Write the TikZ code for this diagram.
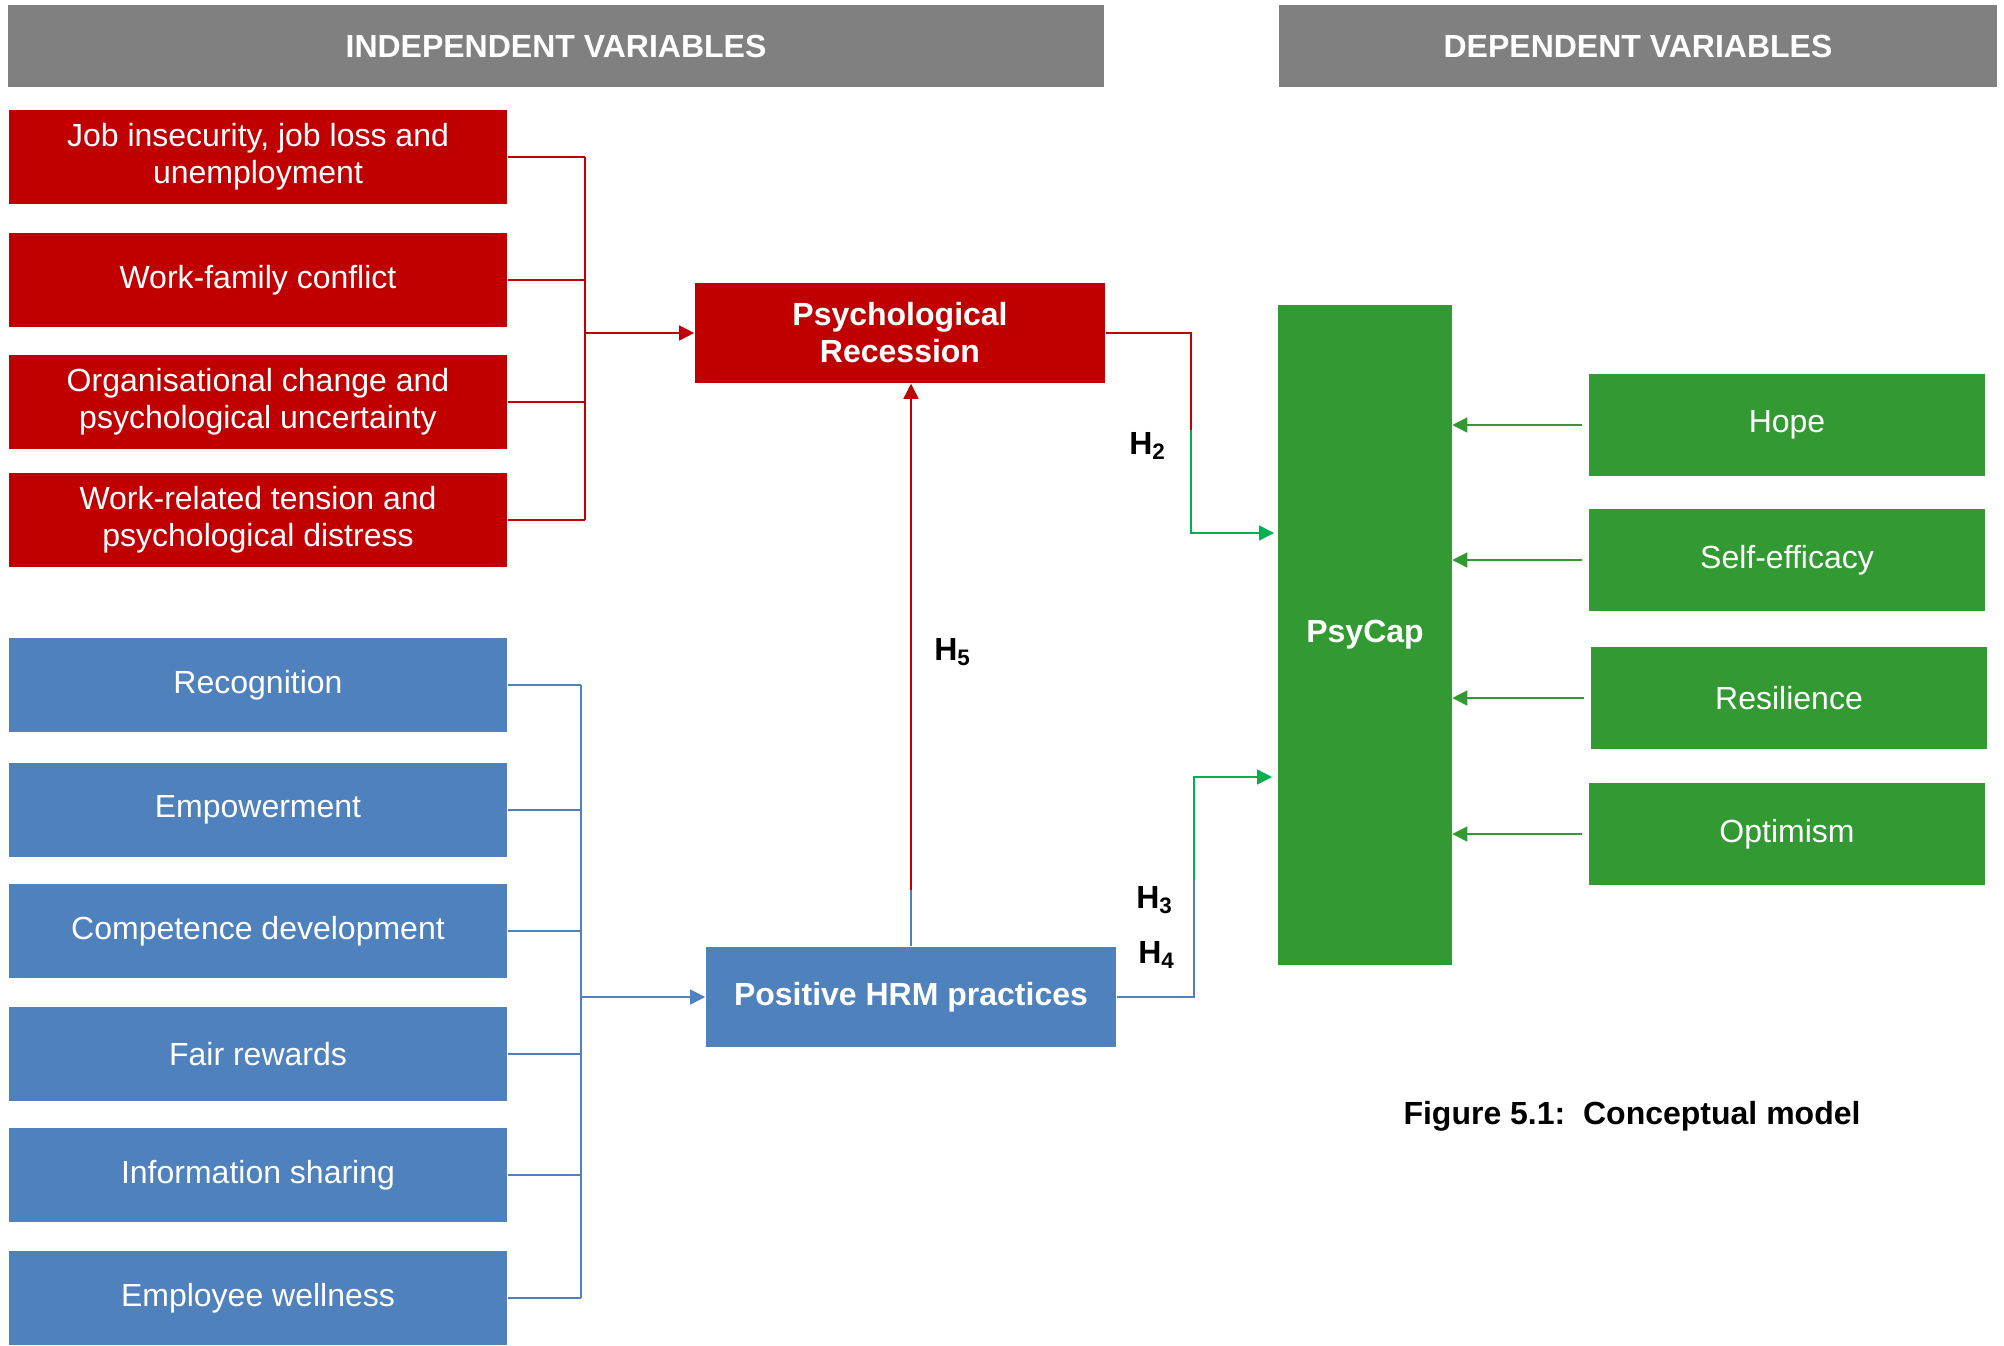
\documentclass[tikz,border=0pt]{standalone}
\usepackage{fontspec}
\setmainfont{Liberation Sans}
\usetikzlibrary{arrows.meta}
\definecolor{varred}{HTML}{C00000}
\definecolor{varblue}{HTML}{4F81BD}
\definecolor{vargreen}{HTML}{339933}
\definecolor{linkgreen}{HTML}{00B050}
\definecolor{headgray}{HTML}{808080}
\providecommand{\boxfontsize}{\fontsize{9.1}{10.5}\selectfont}

\begin{document}
\begin{tikzpicture}[x=0.01cm,y=-0.01cm,
    headbox/.style={fill=headgray,text=white,inner sep=0,font=\boxfontsize\bfseries},
    varbox/.style={fill=#1,text=white,inner sep=0,align=center,font=\boxfontsize,minimum width=4.98cm,minimum height=0.94cm},
    midbox/.style={fill=#1,text=white,inner sep=0,align=center,font=\boxfontsize\bfseries,minimum width=4.1cm,minimum height=1.0cm},
    psybox/.style={fill=vargreen,text=white,inner sep=0,align=center,font=\boxfontsize,minimum width=3.95cm,minimum height=1.01cm},
    hyp/.style={font=\boxfontsize\bfseries,inner sep=0},
    link/.style={draw=#1,line width=0.4pt},
    tip/.style={-{Triangle[length=0.15cm,width=0.15cm]}}]
    \useasboundingbox (0,0) rectangle (2004,1345);
    % headers
    \node[headbox,minimum width=10.95cm,minimum height=0.81cm] (indep) at (556,46) {INDEPENDENT VARIABLES};
    \node[headbox,minimum width=7.17cm,minimum height=0.82cm] (dep) at (1638,46) {DEPENDENT VARIABLES};
    % independent variables
    \node[varbox=varred] (insecurity) at (258,157) {Job insecurity, job loss and\\unemployment};
    \node[varbox=varred] (conflict) at (258,280) {Work-family conflict};
    \node[varbox=varred] (change) at (258,402) {Organisational change and\\psychological uncertainty};
    \node[varbox=varred] (tension) at (258,520) {Work-related tension and\\psychological distress};
    \node[varbox=varblue] (recognition) at (258,685) {Recognition};
    \node[varbox=varblue] (empowerment) at (258,810) {Empowerment};
    \node[varbox=varblue] (competence) at (258,931) {Competence development};
    \node[varbox=varblue] (rewards) at (258,1054) {Fair rewards};
    \node[varbox=varblue] (sharing) at (258,1175) {Information sharing};
    \node[varbox=varblue] (wellness) at (258,1298) {Employee wellness};
    \node[midbox=varred] (recession) at (900,333) {Psychological\\Recession};
    \node[midbox=varblue] (hrm) at (911,997) {Positive HRM practices};
    % dependent variables
    \node[fill=vargreen,text=white,inner sep=0,minimum width=1.73cm,minimum height=6.59cm,font=\boxfontsize\bfseries] (psycap) at (1365,635) {PsyCap};
    \node[psybox] (hope) at (1787,425) {Hope};
    \node[psybox] (efficacy) at (1787,560) {Self-efficacy};
    \node[psybox] (resilience) at (1789,698) {Resilience};
    \node[psybox] (optimism) at (1787,834) {Optimism};
    % brackets
    \coordinate (redbar) at (585,0);
    \coordinate (bluebar) at (581,0);
    \foreach \n in {insecurity,conflict,change,tension}
        \draw[link=varred] (\n.east) -- (\n.east -| redbar);
    \draw[link=varred] (insecurity.east -| redbar) -- (tension.east -| redbar);
    \draw[link=varred,tip] (recession.west -| redbar) -- (recession.west);
    \foreach \n in {recognition,empowerment,competence,rewards,sharing,wellness}
        \draw[link=varblue] (\n.east) -- (\n.east -| bluebar);
    \draw[link=varblue] (recognition.east -| bluebar) -- (wellness.east -| bluebar);
    \draw[link=varblue,tip] (hrm.west -| bluebar) -- (hrm.west);
    % hypotheses
    \coordinate (h5mid) at (911,890);
    \draw[link=varblue] (hrm.north) -- (h5mid);
    \draw[link=varred,tip] (h5mid) -- (h5mid |- recession.south);
    \coordinate (h2mid) at (1191,430);
    \coordinate (h2in) at (1274,533);
    \draw[link=varred] (recession.east) -| (h2mid);
    \draw[link=linkgreen,tip] (h2mid) |- (h2in);
    \coordinate (h34mid) at (1194,880);
    \coordinate (h34in) at (1272,777);
    \draw[link=varblue] (hrm.east) -| (h34mid);
    \draw[link=linkgreen,tip] (h34mid) |- (h34in);
    \foreach \n in {hope,efficacy,resilience,optimism}
        \draw[link=vargreen,tip,shorten <=2pt] (\n.west) -- (\n.west -| psycap.east);
    \node[hyp] (h2) at (1148,446) {H\textsubscript{2}};
    \node[hyp] (h3) at (1155,900) {H\textsubscript{3}};
    \node[hyp] (h4) at (1157,955) {H\textsubscript{4}};
    \node[hyp] (h5) at (953,652) {H\textsubscript{5}};
    \node[hyp] (caption) at (1632,1116) {Figure 5.1:\ \ Conceptual model};
\end{tikzpicture}
\end{document}
